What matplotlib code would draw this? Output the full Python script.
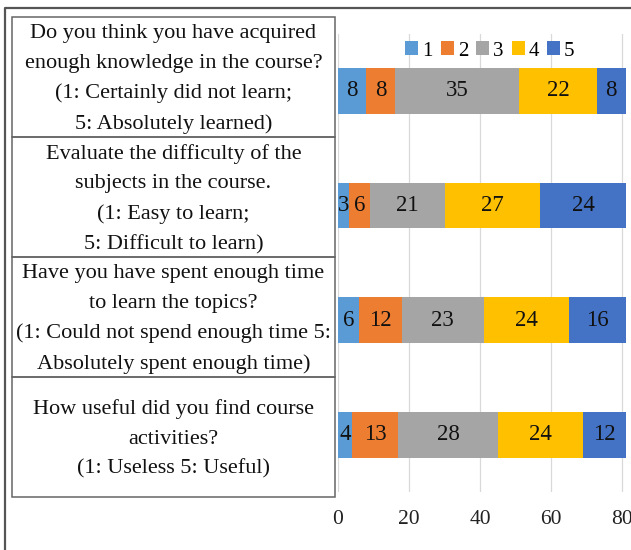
import matplotlib
matplotlib.use("Agg")
import matplotlib.pyplot as plt
from matplotlib.patches import Patch
import numpy as np

plt.rcParams["font.family"] = ["Liberation Serif", "DejaVu Serif"]

# questions shown in the table on the left
questions = [
    "Do you think you have acquired\nenough knowledge in the course?\n(1: Certainly did not learn;\n5: Absolutely learned)",
    "Evaluate the difficulty of the\nsubjects in the course.\n(1: Easy to learn;\n5: Difficult to learn)",
    "Have you have spent enough time\nto learn the topics?\n(1: Could not spend enough time 5:\nAbsolutely spent enough time)",
    "How useful did you find course\nactivities?\n(1: Useless 5: Useful)",
]
levels = ["1", "2", "3", "4", "5"]
counts_1 = [8, 3, 6, 4]
counts_2 = [8, 6, 12, 13]
counts_3 = [35, 21, 23, 28]
counts_4 = [22, 27, 24, 24]
counts_5 = [8, 24, 16, 12]
x_ticks = [0, 20, 40, 60, 80]

COLORS = ["#5B9BD5", "#ED7D31", "#A5A5A5", "#FFC000", "#4472C4"]

W, H = 631, 550
fig = plt.figure(figsize=(W / 100, H / 100), dpi=100)

# background axes in pixel coords for the frame and the question table
bg = fig.add_axes([0, 0, 1, 1])
bg.set_xlim(0, W)
bg.set_ylim(H, 0)
bg.axis("off")
bg.plot([5, 5, W + 5], [H + 5, 8, 8], color="#555555", lw=1.6)

tbl_left, tbl_right, tbl_top, row_h = 12, 335, 17, 120
for i, q in enumerate(questions):
    y0 = tbl_top + i * row_h
    bg.add_patch(plt.Rectangle((tbl_left, y0), tbl_right - tbl_left, row_h,
                               fill=False, edgecolor="#666666", lw=1.1))
    bg.text((tbl_left + tbl_right) / 2, y0 + row_h / 2 + 2, q, ha="center",
            va="center", fontsize=16, linespacing=1.74, color="#111111")

# bar chart
x0_px, px_per_unit = 338, 3.55
xmax = 90
top_px, bot_px = 33.6, 492
ax = fig.add_axes([x0_px / W, 1 - bot_px / H,
                   xmax * px_per_unit / W, (bot_px - top_px) / H])

series = [counts_1, counts_2, counts_3, counts_4, counts_5]
y = np.arange(len(questions))
left = np.zeros(len(questions))
handles = []
for lvl, vals, col in zip(levels, series, COLORS):
    vals = np.array(vals, dtype=float)
    ax.barh(y, vals, left=left, height=0.4, color=col, zorder=3)
    for yi, li, v in zip(y, left, vals):
        ax.text(li + v / 2, yi, f"{int(v)}", ha="center", va="center",
                fontsize=16.5, color="#111111", zorder=4)
    left += vals
    handles.append(Patch(facecolor=col, label=lvl))

ax.set_ylim(len(questions) - 0.5, -0.5)
ax.set_xlim(0, xmax)
ax.set_xticks(x_ticks)
ax.set_xticklabels([str(t) for t in x_ticks], fontsize=15.5, color="#222222")
ax.set_yticks([])
ax.tick_params(axis="x", length=0, pad=13)
ax.grid(axis="x", color="#D9D9D9", lw=0.9, zorder=0)
for s in ax.spines.values():
    s.set_visible(False)

fig.legend(handles=handles, loc="center", bbox_to_anchor=(490 / W, 1 - 51 / H),
           ncol=5, frameon=False, fontsize=15, handlelength=0.62,
           handleheight=0.62, handletextpad=0.2, columnspacing=0.38,
           borderpad=0)

fig.savefig("out.png", dpi=100)
